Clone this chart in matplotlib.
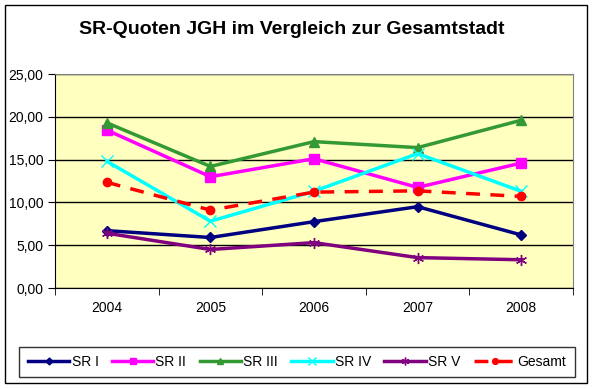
import matplotlib.pyplot as plt
from matplotlib.patches import Rectangle

plt.rcParams['font.family'] = ['Liberation Sans', 'DejaVu Sans']

# Daten
jahre = ['2004', '2005', '2006', '2007', '2008']
sr1 = [6.7, 5.9, 7.75, 9.5, 6.2]
sr2 = [18.45, 13.0, 15.1, 11.75, 14.6]
sr3 = [19.3, 14.2, 17.1, 16.4, 19.6]
sr4 = [14.8, 7.8, 11.3, 15.7, 11.3]
sr5 = [6.4, 4.5, 5.3, 3.55, 3.3]
gesamt = [12.35, 9.1, 11.2, 11.35, 10.7]

fig = plt.figure(figsize=(5.95, 3.89), dpi=100)
ax = fig.add_axes([55 / 595, 1 - 288 / 389, 518 / 595, 214 / 389])
ax.set_facecolor('#FFFFC0')

x = range(len(jahre))
ax.plot(x, sr1, color='#000080', lw=2.5, marker='D', ms=5, label='SR I')
ax.plot(x, sr2, color='#FF00FF', lw=2.5, marker='s', ms=7, label='SR II')
ax.plot(x, sr3, color='#339933', lw=2.5, marker='^', ms=7, label='SR III')
ax.plot(x, sr4, color='#00FFFF', lw=2.5, marker='x', ms=9, mew=1, label='SR IV')
ax.plot(x, sr5, color='#800080', lw=2.5, marker=(6, 2, 0), ms=8, mew=1, label='SR V')
ax.plot(x, gesamt, color='#FF0000', lw=2.5, ls=(0, (4, 3)), marker='o', ms=6,
        label='Gesamt')

ax.set_xlim(-0.5, 4.5)
ax.set_ylim(0, 25)
ax.set_yticks([0, 5, 10, 15, 20, 25])
ax.set_yticklabels(['0,00', '5,00', '10,00', '15,00', '20,00', '25,00'], fontsize=10)
ax.set_xticks(list(x))
ax.set_xticklabels(jahre, fontsize=10)
ax.set_xticks([i - 0.5 for i in range(6)], minor=True)
ax.tick_params(axis='x', which='major', length=0, pad=9)
ax.tick_params(axis='x', which='minor', length=5, direction='out')
ax.tick_params(axis='y', length=5, direction='out')
ax.yaxis.grid(True, color='black', lw=1)
ax.set_axisbelow(True)
ax.spines['top'].set_color('#808080')
ax.spines['right'].set_color('#808080')

fig.text(0.49, 1 - 30 / 389, 'SR-Quoten JGH im Vergleich zur Gesamtstadt',
         ha='center', va='center', fontsize=14, fontweight='bold')

leg = fig.legend(loc='center', bbox_to_anchor=(297 / 595, 1 - 362 / 389), ncol=6,
                 fontsize=10, frameon=True, fancybox=False, edgecolor='black',
                 handlelength=3.0, handletextpad=0.15, columnspacing=0.95,
                 borderpad=0.6, markerscale=0.7)
leg.get_frame().set_linewidth(1)

fig.patches.append(Rectangle((5 / 595, 1 - 383 / 389), 582 / 595, 378 / 389,
                             transform=fig.transFigure, fill=False,
                             edgecolor='black', lw=1))

fig.savefig('out.png', dpi=100)
